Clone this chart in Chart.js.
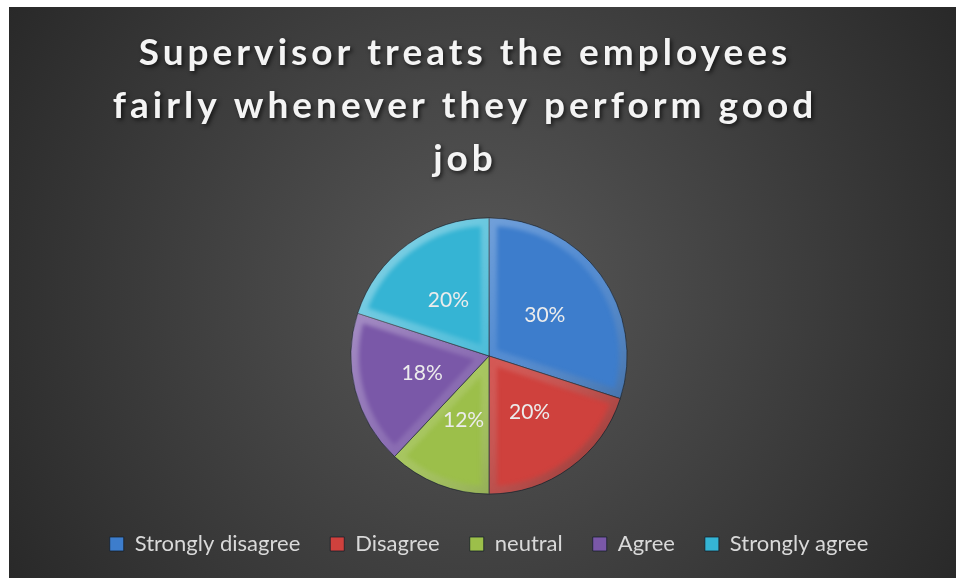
<!DOCTYPE html>
<html>
<head>
<meta charset="utf-8">
<script src="https://cdn.jsdelivr.net/npm/chart.js@4.4.1/dist/chart.umd.min.js"></script>
<style>
  html, body { margin: 0; padding: 0; background: #ffffff; }
  #wrap { position: absolute; left: 9px; top: 7px; width: 947px; height: 571px; }
  canvas { display: block; }
</style>
</head>
<body>
<div id="wrap"><canvas id="c" width="947" height="571"></canvas></div>
<script>
// Survey answers and their shares (percent)
const categories = ['Strongly disagree', 'Disagree', 'neutral', 'Agree', 'Strongly agree'];
const shares = [30, 20, 12, 18, 20];
const sliceColors = ['#3d7dcc', '#cf413d', '#9cbf4a', '#7a58a8', '#35b4d4'];
const titleLines = ['Supervisor treats the employees', 'fairly whenever they perform good', 'job'];

// Dark radial backdrop behind the whole chart
const backdrop = {
  id: 'backdrop',
  beforeDraw(chart) {
    const { ctx, width, height } = chart;
    const g = ctx.createRadialGradient(width * 0.5, height * 0.5, 0, width * 0.5, height * 0.5, width * 0.62);
    g.addColorStop(0, '#585858');
    g.addColorStop(1, '#262626');
    ctx.save();
    ctx.fillStyle = g;
    ctx.fillRect(0, 0, width, height);
    ctx.restore();
  }
};

// Soft bevel on every slice, then the percentage labels
const sliceBevel = {
  id: 'sliceBevel',
  afterDatasetsDraw(chart) {
    const { ctx } = chart;
    const meta = chart.getDatasetMeta(0);
    meta.data.forEach((arc) => {
      const { x, y, startAngle, endAngle, outerRadius } =
        arc.getProps(['x', 'y', 'startAngle', 'endAngle', 'outerRadius'], true);
      const path = () => {
        ctx.beginPath();
        ctx.moveTo(x, y);
        ctx.arc(x, y, outerRadius, startAngle, endAngle);
        ctx.closePath();
      };
      ctx.save();
      path();
      ctx.clip();
      const g = ctx.createLinearGradient(x - outerRadius, y - outerRadius, x + outerRadius, y + outerRadius);
      g.addColorStop(0, 'rgba(255,255,255,0.42)');
      g.addColorStop(0.5, 'rgba(255,255,255,0.12)');
      g.addColorStop(1, 'rgba(0,0,0,0.38)');
      ctx.filter = 'blur(2px)';
      ctx.lineJoin = 'round';
      ctx.lineWidth = 16;
      ctx.strokeStyle = g;
      path();
      ctx.stroke();
      ctx.restore();
    });

    ctx.save();
    ctx.font = '21px Lato';
    ctx.fillStyle = '#ececec';
    ctx.textAlign = 'center';
    ctx.textBaseline = 'middle';
    meta.data.forEach((arc, i) => {
      const p = arc.tooltipPosition();
      ctx.fillText(shares[i] + '%', p.x, p.y);
    });
    ctx.restore();
  }
};

const chart = new Chart(document.getElementById('c'), {
  type: 'pie',
  data: {
    labels: categories,
    datasets: [{
      data: shares,
      backgroundColor: sliceColors,
      borderColor: 'rgba(20,30,40,0.75)',
      borderWidth: 1,
      radius: 138
    }]
  },
  options: {
    responsive: false,
    animation: false,
    layout: { padding: { left: 13, bottom: 13 } },
    plugins: {
      title: {
        display: true,
        text: titleLines,
        color: '#f4f4f4',
        font: { family: 'Lato', size: 37, weight: 'bold', lineHeight: 1.432 },
        padding: { top: 20, bottom: 23 }
      },
      legend: {
        position: 'bottom',
        labels: {
          color: '#d9d9d9',
          font: { family: 'Lato', size: 22 },
          boxWidth: 14,
          boxHeight: 14,
          padding: 30
        }
      },
      tooltip: { enabled: false }
    }
  },
  plugins: [backdrop, sliceBevel]
});

// Spaced, shadowed title lettering
const titleBox = chart.titleBlock;
const drawTitle = titleBox.draw.bind(titleBox);
titleBox.draw = function () {
  const ctx = this.ctx;
  ctx.save();
  ctx.letterSpacing = '4px';
  ctx.shadowColor = 'rgba(0,0,0,0.65)';
  ctx.shadowBlur = 4;
  ctx.shadowOffsetX = 2;
  ctx.shadowOffsetY = 2;
  ctx.translate(-24, 0);
  drawTitle();
  ctx.restore();
};
chart.draw();
</script>
</body>
</html>
